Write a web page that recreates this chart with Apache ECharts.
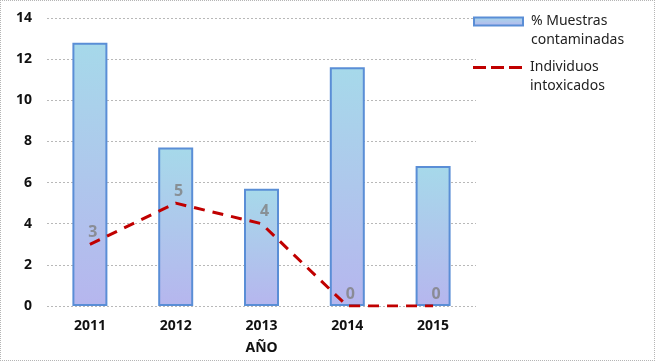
<!DOCTYPE html>
<html>
<head>
<meta charset="utf-8">
<script src="https://cdn.jsdelivr.net/npm/echarts@6/dist/echarts.min.js"></script>
<style>
  html, body { margin: 0; padding: 0; background: #fff; }
  #chart { width: 655px; height: 361px; box-sizing: border-box; border: 1px dotted #b5b5b5; }
</style>
</head>
<body>
<div id="chart"></div>
<script>
var years = ['2011', '2012', '2013', '2014', '2015'];
var muestras = [12.8, 7.7, 5.7, 11.6, 6.8];
var individuos = [3, 5, 4, 0, 0];

var fontFam = '"Noto Sans", sans-serif';

var barFill = new echarts.graphic.LinearGradient(0, 0, 0, 1, [
  { offset: 0, color: '#a6d9ea' },
  { offset: 1, color: '#b6b6ee' }
]);

var legendText = { fontSize: 14, color: '#222', lineHeight: 19, padding: [0, 0, 0, 3], fontFamily: fontFam };

var option = {
  animation: false,
  textStyle: { fontFamily: fontFam },
  grid: { left: 46, right: 178, top: 17, bottom: 54, outerBoundsMode: 'none' },
  legend: [
    {
      data: [{ name: '% Muestras', icon: 'rect' }],
      left: 472, top: -8, padding: 0,
      itemWidth: 49, itemHeight: 8,
      formatter: function () { return ' \n% Muestras\ncontaminadas'; },
      textStyle: legendText
    },
    {
      data: [{ name: 'Individuos', icon: 'path://M0,0H13V3H0Z M18,0H31V3H18Z M36,0H49V3H36Z' }],
      left: 472, top: 38, padding: 0,
      itemWidth: 49, itemHeight: 3,
      symbolKeepAspect: false,
      formatter: function () { return ' \nIndividuos\nintoxicados'; },
      textStyle: legendText
    }
  ],
  xAxis: {
    type: 'category',
    data: years,
    name: 'AÑO',
    nameLocation: 'middle',
    nameGap: 35,
    nameTextStyle: { fontSize: 14, fontWeight: 'bold', color: '#111', fontFamily: fontFam },
    axisLine: { show: false },
    axisTick: { show: false },
    axisLabel: { fontSize: 14, fontWeight: 'bold', color: '#111', margin: 13, fontFamily: fontFam }
  },
  yAxis: {
    type: 'value',
    min: 0, max: 14, interval: 2,
    axisLine: { show: false },
    axisTick: { show: false },
    axisLabel: { fontSize: 14, fontWeight: 'bold', color: '#111', margin: 15, fontFamily: fontFam },
    splitLine: { lineStyle: { color: '#b8b8b8', type: [2, 2], width: 1 } }
  },
  series: [
    {
      name: '% Muestras',
      type: 'bar',
      data: muestras,
      barWidth: 35,
      itemStyle: { color: barFill, borderColor: '#5a8ed6', borderWidth: 2 }
    },
    {
      name: 'Individuos',
      type: 'line',
      data: individuos,
      symbol: 'none',
      z: 5,
      lineStyle: { color: '#c00000', width: 3, type: [11, 8] },
      itemStyle: { color: '#c00000' }
    },
    {
      name: 'etiquetas',
      type: 'scatter',
      data: individuos,
      symbolSize: 0,
      z: 6,
      label: {
        show: true,
        position: 'top',
        distance: 4,
        offset: [3, 0],
        color: '#808080',
        fontSize: 16,
        fontWeight: 'bold',
        fontFamily: fontFam
      }
    }
  ]
};

var chart = echarts.init(document.getElementById('chart'));
chart.setOption(option);
</script>
</body>
</html>
